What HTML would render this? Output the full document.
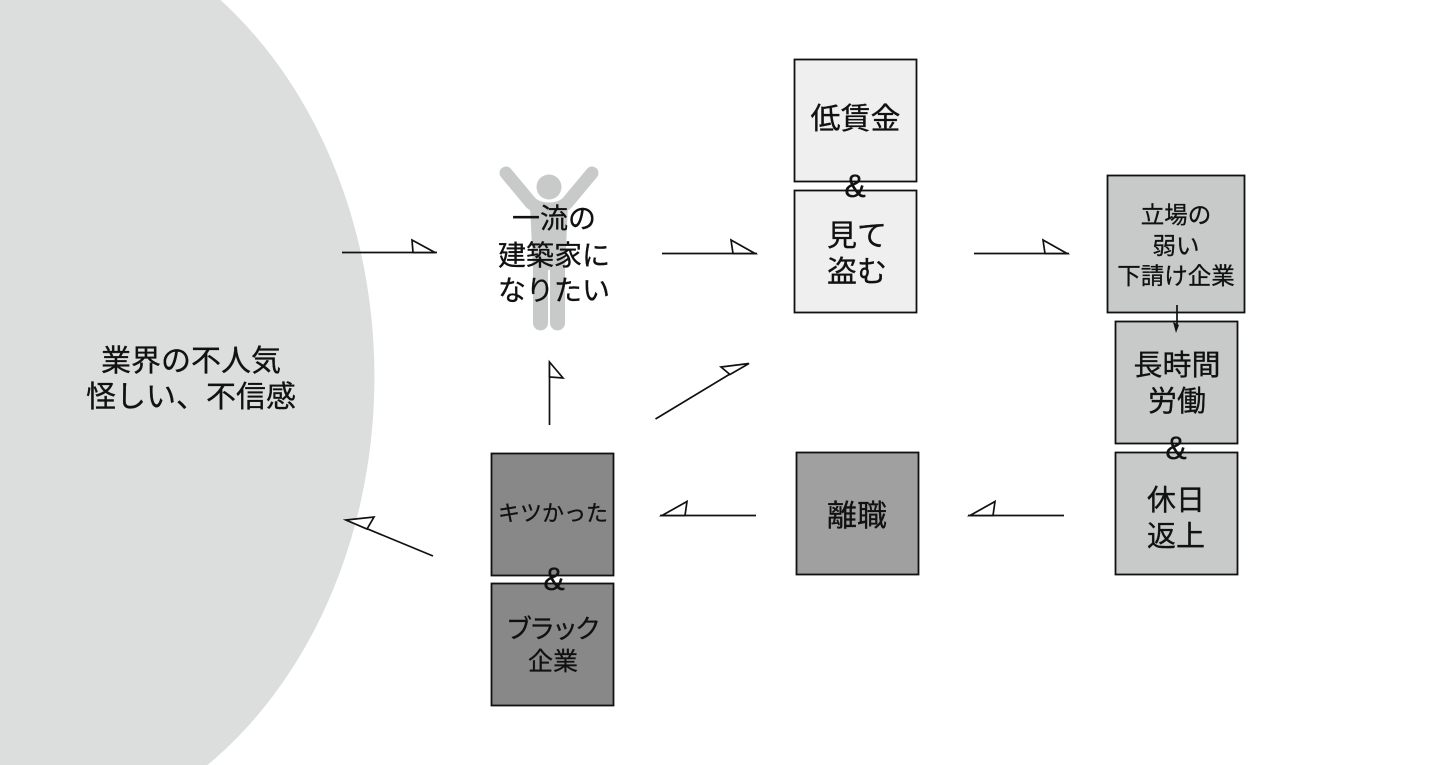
<!DOCTYPE html>
<html lang="ja">
<head>
<meta charset="utf-8">
<style>
html,body{margin:0;padding:0;background:#fff;width:1440px;height:765px;overflow:hidden}
svg{display:block}
text{font-family:"Liberation Sans","Noto Sans CJK JP",sans-serif;fill:#111;stroke:#111;stroke-width:.3;text-anchor:middle}
.b{stroke:#111;stroke-width:1.8}
.l{stroke:#111;stroke-width:1.7;fill:none}
.h{stroke:#111;stroke-width:1.7;fill:#fff;stroke-linejoin:miter}
</style>
</head>
<body>
<svg width="1440" height="765" viewBox="0 0 1440 765" xmlns="http://www.w3.org/2000/svg">
<path d="M0 0 H220.500 A376 467 0 0 1 207.500 765 H0 Z" fill="#dcdedd"/>
<text x="191" y="371" font-size="30">業界の不人気</text>
<text x="191" y="407" font-size="30">怪しい、不信感</text>

<!-- figure -->
<g fill="#c8cac9">
<circle cx="549" cy="187" r="12.500"/>
<path d="M506 173 L531 203 Q538 209 549 209 Q560 209 567 203 L592 173" fill="none" stroke="#c8cac9" stroke-width="13" stroke-linecap="round" stroke-linejoin="round"/>
<path d="M530 205 H568 L565 270 V323 A7.500 7.500 0 0 1 550 323 V270 H548 V323 A7.500 7.500 0 0 1 533 323 V270 Z"/>
</g>
<text x="554" y="228" font-size="28">一流の</text>
<text x="554" y="265" font-size="28">建築家に</text>
<text x="554" y="300" font-size="28">なりたい</text>

<!-- boxes -->
<rect class="b" x="794.500" y="59.500" width="122" height="122" fill="#efefef"/>
<rect class="b" x="794.500" y="190.500" width="122" height="122" fill="#efefef"/>
<text x="855.500" y="129" font-size="30">低賃金</text>
<text x="855" y="197" font-size="32">&amp;</text>
<text x="857" y="246" font-size="30">見て</text>
<text x="857" y="282" font-size="30">盗む</text>

<rect class="b" x="1107.500" y="175.500" width="137" height="137" fill="#c8cac9"/>
<text x="1176" y="223" font-size="23.500">立場の</text>
<text x="1176" y="254" font-size="23.500">弱い</text>
<text x="1176" y="284" font-size="23.500">下請け企業</text>

<rect class="b" x="1115.500" y="321.500" width="122" height="122" fill="#c8cac9"/>
<rect class="b" x="1115.500" y="452.500" width="122" height="122" fill="#c8cac9"/>
<text x="1177" y="375" font-size="29">長時間</text>
<text x="1177" y="411" font-size="29">労働</text>
<text x="1176" y="459" font-size="32">&amp;</text>
<text x="1176" y="510" font-size="29">休日</text>
<text x="1176" y="546" font-size="29">返上</text>

<rect class="b" x="796.500" y="452.500" width="122" height="122" fill="#9fa09f"/>
<text x="857" y="526" font-size="30">離職</text>

<rect class="b" x="491.500" y="453.500" width="122" height="122" fill="#888888"/>
<rect class="b" x="491.500" y="583.500" width="122" height="122" fill="#888888"/>
<text x="553" y="521" font-size="22">キツかった</text>
<text x="554" y="590" font-size="32">&amp;</text>
<text x="552" y="638" font-size="26" letter-spacing="-3">ブラック</text>
<text x="553" y="670" font-size="25">企業</text>

<!-- arrows -->
<g>
<line class="l" x1="342" y1="252.500" x2="437" y2="252.500"/>
<path class="h" d="M435 252.500 L412 240 L413 252.500 Z"/>
<line class="l" x1="662" y1="253.500" x2="757" y2="253.500"/>
<path class="h" d="M755 253.500 L731 240 L733 253.500 Z"/>
<line class="l" x1="974" y1="253.500" x2="1069" y2="253.500"/>
<path class="h" d="M1067 253.500 L1043 240 L1045 253.500 Z"/>
<line class="l" x1="549.500" y1="425" x2="549.500" y2="362"/>
<path class="h" d="M549.500 362 L563 378 L549.500 377 Z"/>
<line class="l" x1="655.500" y1="419" x2="730" y2="374"/>
<path class="h" d="M749 363.500 L721 367 L730 374.500 Z"/>
<line class="l" x1="756" y1="515.500" x2="660" y2="515.500"/>
<path class="h" d="M662 515.500 L687 501.500 L685 515.500 Z"/>
<line class="l" x1="1064" y1="515.500" x2="968" y2="515.500"/>
<path class="h" d="M970 515.500 L995 501.500 L993 515.500 Z"/>
<line class="l" x1="433" y1="556" x2="346" y2="520"/>
<path class="h" d="M346 520 L374 517 L367 529 Z"/>
<line class="l" x1="1177" y1="305" x2="1177" y2="325"/>
<path d="M1176 333 L1173 322 L1179 325 Z" fill="#111"/>
</g>
</svg>
</body>
</html>
